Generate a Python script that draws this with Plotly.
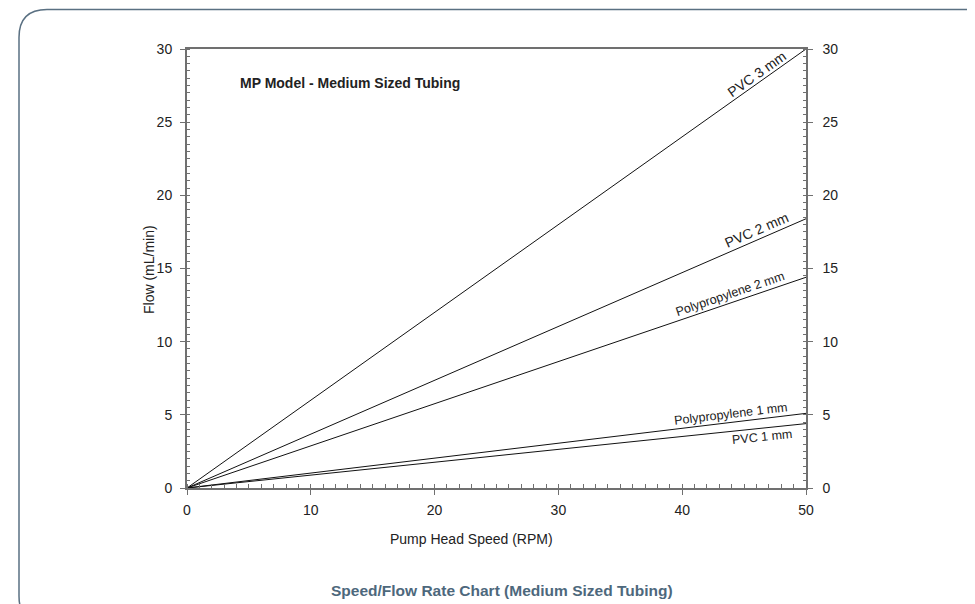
import math
import plotly.graph_objects as go

# ---- data ----
speed_rpm = [0, 50]
tubing_names = ["PVC 3 mm", "PVC 2 mm", "Polypropylene 2 mm", "Polypropylene 1 mm", "PVC 1 mm"]
flow_at_50 = [30.0, 18.4, 14.4, 5.1, 4.4]
label_x = [46.4, 46.3, 44.1, 44.0, 46.4]
label_side = [8, 9, 9, 8, -9]
label_size = [14, 14, 12.5, 12.5, 12.5]
x_ticks = [0, 10, 20, 30, 40, 50]
y_ticks = [0, 5, 10, 15, 20, 25, 30]

FONT = "Liberation Sans, Arial, Helvetica, sans-serif"
W, H = 975, 604
OFF = 8  # page body margin offset
# plot area in screen pixels: x 187..806, y 49..488
SX0, SX1, SY0, SY1 = 187, 806, 49, 488
L, T = SX0 - OFF, SY0 - OFF
PW, PH = SX1 - SX0, SY1 - SY0
R, B = W - L - PW, H - T - PH
XMAX, YMAX = 50, 30

fig = go.Figure()
for i, (name, v) in enumerate(zip(tubing_names, flow_at_50)):
    fig.add_trace(go.Scatter(
        x=speed_rpm, y=[0, v], mode="lines", name=name,
        line=dict(color="#111111", width=1),
        yaxis="y2" if i == len(tubing_names) - 1 else "y",
        hoverinfo="skip", showlegend=False))

annotations = []
for name, v, xc, d, fs in zip(tubing_names, flow_at_50, label_x, label_side, label_size):
    slope_px = (v / YMAX * PH) / PW
    th = math.atan(slope_px)
    annotations.append(dict(
        x=xc, y=v * xc / XMAX, xref="x", yref="y", text=name, showarrow=False,
        textangle=-math.degrees(th), xanchor="center", yanchor="middle",
        xshift=-d * math.sin(th), yshift=d * math.cos(th),
        font=dict(family=FONT, size=fs, color="#222222")))

def fx(px):
    return (px - SX0) / PW

def fy(py):
    return (SY1 - py) / PH

# chart title inside plot
annotations.append(dict(x=fx(238), y=fy(83), xref="paper", yref="paper",
                        text="<b>MP Model - Medium Sized Tubing</b>", showarrow=False,
                        xanchor="left", yanchor="middle",
                        font=dict(family=FONT, size=14, color="#222222")))
# axis titles
annotations.append(dict(x=fx(149), y=fy(270), xref="paper", yref="paper",
                        text="Flow (mL/min)", showarrow=False, textangle=-90,
                        xanchor="center", yanchor="middle",
                        font=dict(family=FONT, size=14, color="#222222")))
annotations.append(dict(x=fx(471), y=fy(539), xref="paper", yref="paper",
                        text="Pump Head Speed (RPM)", showarrow=False,
                        xanchor="center", yanchor="middle",
                        font=dict(family=FONT, size=14, color="#222222")))
# caption
annotations.append(dict(x=fx(502), y=fy(590), xref="paper", yref="paper",
                        text="<b>Speed/Flow Rate Chart (Medium Sized Tubing)</b>", showarrow=False,
                        xanchor="center", yanchor="middle",
                        font=dict(family=FONT, size=15.5, color="#4d687c")))

# rounded border (extends beyond right edge, bottom curve just at the edge)
r = 28
lft, top, rgt, bot = 19, OFF + 1.5, 1010, 624
path = (f"M {fx(rgt)},{fy(top)} L {fx(lft + r)},{fy(top)} "
        f"Q {fx(lft)},{fy(top)} {fx(lft)},{fy(top + r)} "
        f"L {fx(lft)},{fy(bot - r)} "
        f"Q {fx(lft)},{fy(bot)} {fx(lft + r)},{fy(bot)} "
        f"L {fx(rgt)},{fy(bot)}")
shapes = [dict(type="path", path=path, xref="paper", yref="paper",
               line=dict(color="#5a7082", width=1.5), layer="above")]

axis_col = "#707070"
tick_font = dict(family=FONT, size=14, color="#222222")
fig.update_layout(
    width=W, height=H,
    margin=dict(l=L, r=R, t=T, b=B),
    paper_bgcolor="white", plot_bgcolor="white",
    showlegend=False,
    xaxis=dict(range=[0, XMAX], tickvals=x_ticks, ticks="outside", ticklen=5,
               tickcolor=axis_col, showline=True, linecolor=axis_col, linewidth=1.5,
               mirror=True, showgrid=False, zeroline=False, tickfont=tick_font,
               ticklabelstandoff=3,
               minor=dict(dtick=1, ticks="inside", ticklen=4, tickcolor=axis_col, showgrid=False)),
    yaxis=dict(range=[0, YMAX], tickvals=y_ticks, ticks="outside", ticklen=5,
               tickcolor=axis_col, showline=True, linecolor=axis_col, linewidth=2,
               showgrid=False, zeroline=False, tickfont=tick_font, ticklabelstandoff=5,
               minor=dict(dtick=0.5, ticks="inside", ticklen=3, tickcolor=axis_col, showgrid=False)),
    yaxis2=dict(range=[0, YMAX], tickvals=y_ticks, ticks="outside", ticklen=5,
                overlaying="y", side="right",
                tickcolor=axis_col, showline=True, linecolor=axis_col, linewidth=1.5,
                showgrid=False, zeroline=False, tickfont=tick_font, ticklabelstandoff=7,
                minor=dict(dtick=0.5, ticks="inside", ticklen=3, tickcolor=axis_col, showgrid=False)),
    annotations=annotations,
    shapes=shapes,
)

fig.write_html("out.html")
